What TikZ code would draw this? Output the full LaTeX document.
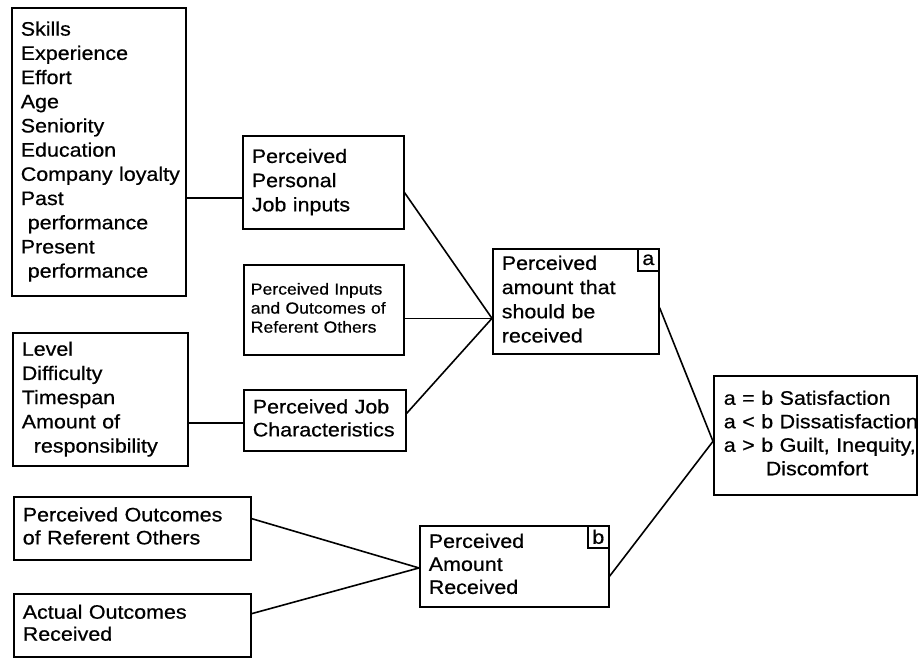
\documentclass[tikz,border=0pt]{standalone}
\usepackage{fontspec}
\setmainfont{Liberation Sans}[FakeStretch=1.1,FakeBold=0.6]
\usetikzlibrary{calc}
\newcommand{\boxlines}[1]{\begin{tabular}{@{}l@{}}#1\end{tabular}}
\tikzset{
  box/.style={draw, line width=1.6pt, anchor=north west, align=left,
    inner xsep=9pt, inner ysep=0pt, font=\fontsize{19.5}{24.2}\selectfont},
  smallbox/.style={box, inner xsep=7pt, font=\fontsize{16}{19}\selectfont},
  tagbox/.style={draw, line width=1.6pt, anchor=north west, inner sep=0pt,
    minimum width=21pt, minimum height=22pt, font=\fontsize{19.5}{24.2}\selectfont},
  link/.style={line width=1.6pt}
}
\begin{document}
\begin{tikzpicture}[x=1pt,y=-1pt]
\useasboundingbox (0,0) rectangle (918,658);
% boxes
\node[box, text width=156pt, minimum height=288pt] (skills) at (11,7)
  {\boxlines{Skills\\Experience\\Effort\\Age\\Seniority\\Education\\Company loyalty\\Past\\\hspace*{7pt}performance\\Present\\\hspace*{7pt}performance}};
\node[box, text width=143pt, minimum height=93pt] (ppji) at (242,135)
  {\boxlines{Perceived\\Personal\\Job inputs}};
\node[smallbox, text width=146pt, minimum height=90pt] (pioro) at (243,264)
  {\boxlines{Perceived Inputs\\and Outcomes of\\Referent Others}};
\node[box, text width=144pt, minimum height=61pt, font=\fontsize{19.5}{23}\selectfont] (jobchar) at (243,389)
  {\boxlines{Perceived Job\\Characteristics}};
\node[box, text width=157pt, minimum height=133pt] (level) at (12,332)
  {\boxlines{Level\\Difficulty\\Timespan\\Amount of\\\hspace*{12pt}responsibility}};
\node[box, text width=148pt, minimum height=105pt] (amount) at (492,248)
  {\boxlines{Perceived\\amount that\\should be\\received}};
\node[tagbox] (tagA) at (637,248) {a};
\node[box, inner xsep=10pt, text width=183pt, minimum height=119pt, font=\fontsize{19.5}{23.5}\selectfont] (result) at (713,375)
  {\boxlines{a = b Satisfaction\\a < b Dissatisfaction\\a > b Guilt, Inequity,\\\hspace*{42pt}Discomfort}};
\node[box, text width=219pt, minimum height=63pt, font=\fontsize{19.5}{23}\selectfont] (poroo) at (13,496)
  {\boxlines{Perceived Outcomes\\of Referent Others}};
\node[box, text width=219pt, minimum height=63pt, font=\fontsize{19.5}{22}\selectfont] (aor) at (13,593)
  {\boxlines{Actual Outcomes\\Received}};
\node[box, text width=171pt, minimum height=81pt, font=\fontsize{19.5}{23}\selectfont] (par) at (419,525)
  {\boxlines{Perceived\\Amount\\Received}};
\node[tagbox] (tagB) at (587,525) {b};
% connection points
\coordinate (s1) at ($(skills.north east)!0.66!(skills.south east)$);
\coordinate (l1) at ($(jobchar.north west)!0.54!(jobchar.south west)$);
\coordinate (ca) at ($(amount.north west)!0.66!(amount.south west)$);
\coordinate (p1) at ($(ppji.north east)!0.61!(ppji.south east)$);
\coordinate (j1) at ($(jobchar.north east)!0.39!(jobchar.south east)$);
\coordinate (cr) at ($(result.north west)!0.55!(result.south west)$);
\coordinate (am1) at ($(amount.north east)!0.56!(amount.south east)$);
\coordinate (pa1) at ($(par.north east)!0.62!(par.south east)$);
\coordinate (cp) at ($(par.north west)!0.52!(par.south west)$);
\coordinate (po1) at ($(poroo.north east)!0.35!(poroo.south east)$);
\coordinate (ao1) at ($(aor.north east)!0.32!(aor.south east)$);
% connectors
\draw[link] (s1) -- (s1 -| ppji.west);
\draw[link] (l1 -| level.east) -- (l1);
\draw[link] (p1) -- (ca);
\draw[link] (ca -| pioro.east) -- (ca);
\draw[link] (j1) -- (ca);
\draw[link] (am1) -- (cr);
\draw[link] (pa1) -- (cr);
\draw[link] (po1) -- (cp);
\draw[link] (ao1) -- (cp);
\end{tikzpicture}
\end{document}
